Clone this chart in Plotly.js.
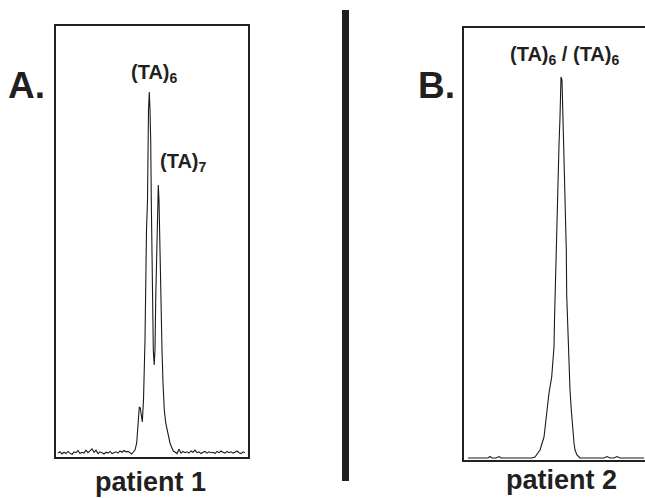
<!DOCTYPE html>
<html>
<head>
<meta charset="utf-8">
<script src="https://cdn.plot.ly/plotly-3.0.1.min.js"></script>
<style>html,body{margin:0;padding:0;background:#fff;}#chart{width:645px;height:498px;}</style>
</head>
<body>
<div id="chart"></div>
<script>
// Patient 1 trace (scan position, relative signal)
const aTime = [2,4,6,8,10,12,14,16,18,20,22,24,26,28,30,32,34,36,38,40,42,44,46,48,50,52,54,56,58,60,62,64,66,68,70,72,74,
  75.7,77.3,79,80.7,82.3,83.3,84.3,85.5,86.3,87.5,89,90.5,91.5,92.5,93.3,94,94.7,95.3,96,96.7,97.3,98.2,99,99.7,100.5,101.3,102.3,103,103.7,104.5,105.3,106,107,108.3,109.7,111,112.3,114,115.5,117.3,119,
  121,123,125,127,129,131,133,135,137,139,141,143,145,147,149,151,153,155,157,159,161,163,165,167,169,171,173,175,177,179,181,183,185,187,189];
const aSignal = [0.9,1.2,0.7,1.1,0.8,1.3,0.9,0.6,1.2,1.0,1.5,0.8,1.1,0.9,1.6,1.0,1.4,1.9,1.1,1.6,0.8,1.2,1.0,0.7,1.1,0.9,1.3,0.8,1.0,1.2,0.9,1.4,1.1,1.5,1.2,1.3,1.0,
  0.70,1.16,1.62,3.25,10.44,11.60,11.37,8.58,8.12,13.23,27.15,52.67,59.63,80.51,84.69,80.5,73.55,59.63,45.71,29.47,24.83,21.35,24.83,36.43,45.71,56.15,63.11,59.63,50.35,40.37,31.79,24.83,17.17,10.90,7.89,6.26,5.57,3.25,2.32,1.39,1.16,
  0.8,1.8,0.9,1.3,1.0,1.2,0.9,1.4,1.1,1.6,1.0,1.2,0.8,1.1,1.3,0.9,1.2,1.0,1.1,0.8,1.3,1.0,1.4,1.1,0.9,1.3,1.0,1.2,0.9,1.1,1.4,1.0,0.8,1.2,1.0];

// Patient 2 trace
const bTime = [4,8,12,16,20,24,26,28,32,35,37,40,44,48,52,56,60,64,67.7,
  71,76,80,82.7,85,87.7,89,90,90.5,91,91.7,92.7,93.5,94.3,95,96,96.5,97,98,98.5,99.3,100,101,101.7,102.3,102.7,103.5,104.3,105,106,107.3,108.7,110,111,113,116,
  120,124,128,132,136,140,143,146,150,153,156,160,164,168,172,176,180];
const bSignal = [0.46,0.46,0.46,0.46,0.46,0.46,0.8,0.46,0.46,0.8,0.46,0.46,0.46,0.46,0.46,0.46,0.46,0.46,0.46,
  0.69,2.31,5.32,11.57,15.51,19.21,23.15,26.16,32.41,37.73,45.14,53.24,60.19,65.51,72.92,79.40,85.65,88.66,87.96,83.33,77.55,71.76,63.66,56.02,48.61,38.19,32.41,26.16,20.83,16.20,11.57,6.94,3.94,2.31,1.16,0.46,
  0.46,0.46,0.46,0.46,0.46,0.46,0.8,0.46,0.46,0.8,0.46,0.46,0.46,0.46,0.46,0.46,0.46];

const panelLabels = ['A.', 'B.'];
const peakLabelsA = ['(TA)<sub>6</sub>', '(TA)<sub>7</sub>'];
const peakLabelB = '(TA)<sub>6</sub> / (TA)<sub>6</sub>';
const patientLabels = ['patient 1', 'patient 2'];

const W = 645, H = 498;
const px = v => v / W;
const py = v => 1 - v / H;
const ink = '#231f20';
const FONT = 'Arial, "Liberation Sans", Helvetica, sans-serif';

const traces = [
  {x: aTime, y: aSignal, type: 'scatter', mode: 'lines', xaxis: 'x', yaxis: 'y',
   line: {color: '#1a1a1a', width: 1.1}, hoverinfo: 'skip', showlegend: false},
  {x: bTime, y: bSignal, type: 'scatter', mode: 'lines', xaxis: 'x2', yaxis: 'y2',
   line: {color: '#1a1a1a', width: 1.1}, hoverinfo: 'skip', showlegend: false}
];

const baseAxis = {showgrid: false, zeroline: false, showticklabels: false, ticks: '',
  showline: true, linecolor: ink, linewidth: 1.6, fixedrange: true};

function ann(text, x, y, size) {
  return {text: '<b>' + text + '</b>', xref: 'paper', yref: 'paper', x: px(x), y: py(y),
    xanchor: 'center', yanchor: 'middle', showarrow: false,
    font: {family: FONT, size: size, color: ink}};
}

const layout = {
  width: W, height: H,
  margin: {l: 0, r: 0, t: 0, b: 0},
  paper_bgcolor: '#fff', plot_bgcolor: '#fff',
  showlegend: false,
  xaxis: Object.assign({}, baseAxis, {domain: [px(56), px(248)], range: [0, 192], mirror: true, anchor: 'y'}),
  yaxis: Object.assign({}, baseAxis, {domain: [1 - 457 / H, 1 - 26 / H], range: [0, 100], mirror: true, anchor: 'x'}),
  xaxis2: Object.assign({}, baseAxis, {domain: [px(464), 1], range: [0, 181], mirror: true, anchor: 'y2'}),
  yaxis2: Object.assign({}, baseAxis, {domain: [1 - 460 / H, 1 - 28 / H], range: [0, 100], mirror: false, anchor: 'x2'}),
  shapes: [
    {type: 'rect', xref: 'paper', yref: 'paper', x0: px(342), x1: px(349), y0: py(481), y1: py(10),
     fillcolor: ink, line: {width: 0}}
  ],
  annotations: [
    ann(panelLabels[0], 26, 85, 37),
    ann(panelLabels[1], 436, 85, 37),
    ann(peakLabelsA[0], 154, 74, 20),
    ann(peakLabelsA[1], 183, 162, 20),
    ann(peakLabelB, 564, 56, 20),
    ann(patientLabels[0], 150, 482, 27),
    ann(patientLabels[1], 561, 480, 27)
  ]
};

Plotly.newPlot('chart', traces, layout, {displayModeBar: false, staticPlot: true});
</script>
</body>
</html>
